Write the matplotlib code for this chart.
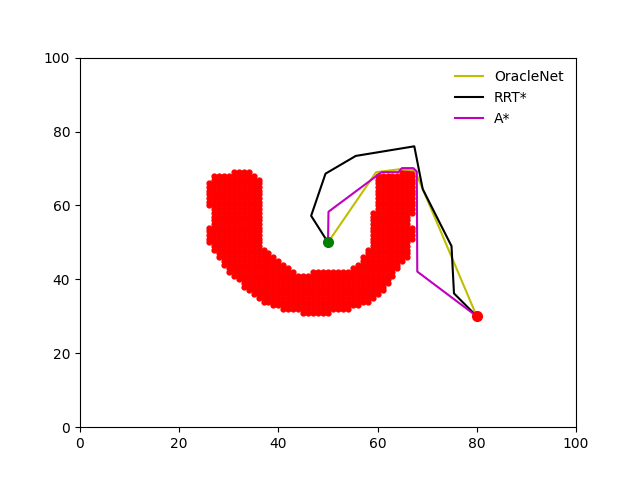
import matplotlib
matplotlib.use('Agg')
import matplotlib.pyplot as plt

# Obstacle grid: for each row y, one or two spans of occupied x cells
row_y = list(range(31, 70))
left_x0 = [45, 41, 39, 37, 36, 35, 34, 33, 33, 32, 31, 30, 30, 29, 29, 28, 28, 27, 27,
           26, 26, 26, 26, 26, 27, 27, 27, 27, 27, 26, 26, 26, 26, 26, 26, 26, 27, 27, 31]
left_x1 = [50, 54, 56, 58, 59, 60, 61, 61, 62, 62, 63, 43, 42, 41, 40, 39, 38, 37, 36,
           36, 36, 36, 36, 36, 36, 36, 36, 36, 36, 36, 36, 36, 36, 36, 36, 36, 36, 35, 34]
right_x0 = [None] * 11 + [47, 55, 56, 57, 57, 58, 58, 59, 59, 59, 59, 59, 59, 59, 59, 59,
                          59, 60, 60, 60, 60, 60, 60, 60, 60, 60, 60, 65]
right_x1 = [None] * 11 + [63, 64, 64, 65, 66, 66, 66, 66, 66, 67, 67, 67, 67, 66, 66, 66,
                          67, 67, 67, 67, 67, 67, 67, 67, 67, 67, 67, 67]

start = (50, 50)
goal = (80, 30)

# Paths
oracle_x = [50, 59.7, 64.5, 67.5, 80]
oracle_y = [50, 69.0, 69.8, 69.5, 30]

rrt_x = [50, 46.6, 49.5, 55.6, 67.4, 69.1, 74.9, 75.4, 80]
rrt_y = [50, 57.2, 68.6, 73.4, 76.0, 64.4, 49.0, 36.2, 30]

astar_x = [50, 50.1, 60.8, 64.2, 64.9, 67.2, 67.9, 68.0, 80]
astar_y = [50, 58.3, 69.0, 69.0, 70.1, 70.1, 69.2, 42.1, 30]

obs_x = []
obs_y = []
for i, y in enumerate(row_y):
    for x in range(left_x0[i], left_x1[i] + 1):
        obs_x.append(x)
        obs_y.append(y)
    if right_x0[i] is not None:
        for x in range(right_x0[i], right_x1[i] + 1):
            obs_x.append(x)
            obs_y.append(y)

fig, ax = plt.subplots(figsize=(6.4, 4.8), dpi=100)
ax.plot(obs_x, obs_y, 'ro', markersize=3.5)
ax.plot(oracle_x, oracle_y, 'y-', label='OracleNet')
ax.plot(rrt_x, rrt_y, 'k-', label='RRT*')
ax.plot(astar_x, astar_y, 'm-', label='A*')
ax.plot(start[0], start[1], 'go', markersize=7)
ax.plot(goal[0], goal[1], 'ro', markersize=7)

ax.set_xlim(0, 100)
ax.set_ylim(0, 100)
ax.legend(loc='upper right', frameon=False)

plt.savefig('out.png')
